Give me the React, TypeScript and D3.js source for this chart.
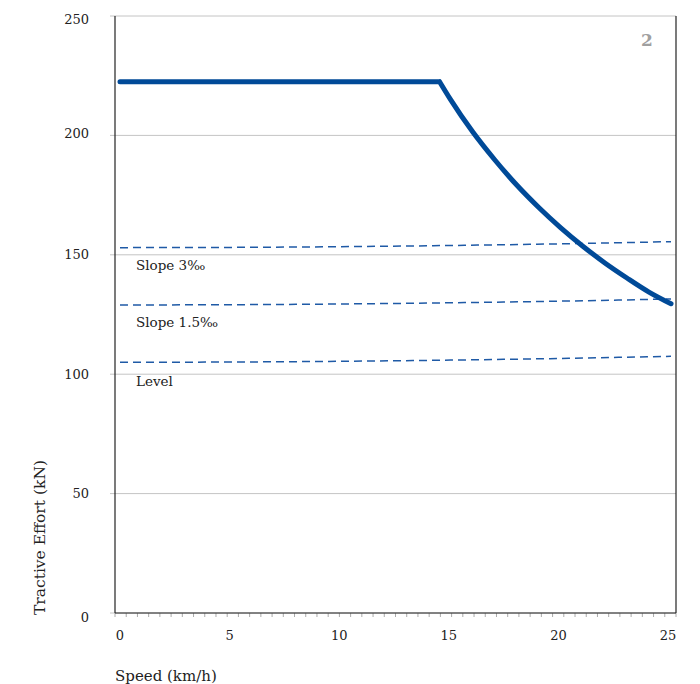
import React from "react";
import * as d3 from "d3";

const speed = [0, 14.5, 15, 16, 17, 18, 19, 20, 21, 22, 23, 24, 25];
const effort = [222.5, 222.5, 215, 201.5, 189.8, 179.2, 169.8, 161.3, 153.6, 146.6, 140.3, 134.4, 129.5];

const resistSpeed = [0, 5, 10, 15, 20, 25];
const levelRes = [105, 105.1, 105.4, 105.9, 106.6, 107.5];
const slope15Res = [129, 129.1, 129.4, 129.9, 130.6, 131.5];
const slope3Res = [153, 153.1, 153.4, 153.9, 154.6, 155.5];

const resistLabels = ["Slope 3‰", "Slope 1.5‰", "Level"];
const resistLabelY = [145.5, 121.7, 97.2];

const xTickLabels = [0, 5, 10, 15, 20, 25];
const yTicks = [0, 50, 100, 150, 200, 250];
const yLabelShift = [4, 0, 0, 0, -1.5, 3];

const FONT = "'DejaVu Serif', serif";

export default function App() {
  const W = 700, H = 684;
  const left = 115, right = 676, top = 16, bottom = 613;
  const x = d3.scaleLinear().domain([0, 25]).range([120, 671]);
  const xTick = d3.scaleLinear().domain([0, 25]).range([left, right]);
  const xLab = d3.scaleLinear().domain([0, 25]).range([120, 668]);
  const y = d3.scaleLinear().domain([0, 250]).range([bottom, top]);

  const line = d3.line<[number, number]>().x(d => x(d[0])).y(d => y(d[1]));
  const curve = d3.line<[number, number]>().x(d => x(d[0])).y(d => y(d[1])).curve(d3.curveMonotoneX);
  const mainPts: [number, number][] = speed.map((s, i) => [s, effort[i]]);
  const flat = line(mainPts.slice(0, 2));
  const fall = curve(mainPts.slice(1));

  const resSeries = [slope3Res, slope15Res, levelRes];
  const minor = d3.range(0, 25.001, 0.5);

  return (
    <svg width={W} height={H} style={{ position: "absolute", left: 0, top: 0, background: "#fff" }}>
      {yTicks.map(t => (
        <line key={"g" + t} x1={110} x2={right} y1={y(t)} y2={y(t)} stroke="#c4c4c4" strokeWidth={1} />
      ))}
      {yTicks.map((t, i) => (
        <text key={"yl" + t} x={89} y={y(t) + yLabelShift[i]} dy="0.35em" textAnchor="end" fontFamily={FONT} fontSize={13} fill="#222">{t}</text>
      ))}
      {minor.map(m => (
        <line key={"m" + m} x1={xTick(m)} x2={xTick(m)} y1={bottom} y2={bottom + 4} stroke="#aaa" strokeWidth={1} />
      ))}
      {xTickLabels.map(t => (
        <text key={"xl" + t} x={xLab(t)} y={640} textAnchor="middle" fontFamily={FONT} fontSize={13} fill="#222">{t}</text>
      ))}
      <line x1={left} x2={left} y1={top} y2={bottom} stroke="#222" strokeWidth={1.2} />
      <line x1={right} x2={right} y1={top} y2={bottom} stroke="#222" strokeWidth={1.2} />
      <line x1={left} x2={right} y1={bottom} y2={bottom} stroke="#222" strokeWidth={1.2} />
      {resSeries.map((r, i) => (
        <path key={"r" + i} d={curve(resistSpeed.map((s, j) => [s, r[j]] as [number, number])) || ""}
          fill="none" stroke="#1f5aa6" strokeWidth={1.5} strokeDasharray="8,5" />
      ))}
      {resistLabels.map((l, i) => (
        <text key={"rl" + i} x={136} y={y(resistLabelY[i])} dy="0.35em" fontFamily={FONT} fontSize={13.5} fill="#222">{l}</text>
      ))}
      <path d={(flat || "") + (fall || "")} fill="none" stroke="#004a98" strokeWidth={5} strokeLinecap="round" strokeLinejoin="round" />
      <text x={647} y={40} dy="0.35em" textAnchor="middle" fontFamily={FONT} fontSize={17} fontWeight="bold" fill="#a0a0a0">2</text>
      <text x={115} y={681} fontFamily={FONT} fontSize={15} fill="#222">Speed (km/h)</text>
      <text transform={`translate(45,${bottom + 2}) rotate(-90)`} fontFamily={FONT} fontSize={15.5} fill="#222">Tractive Effort (kN)</text>
    </svg>
  );
}
